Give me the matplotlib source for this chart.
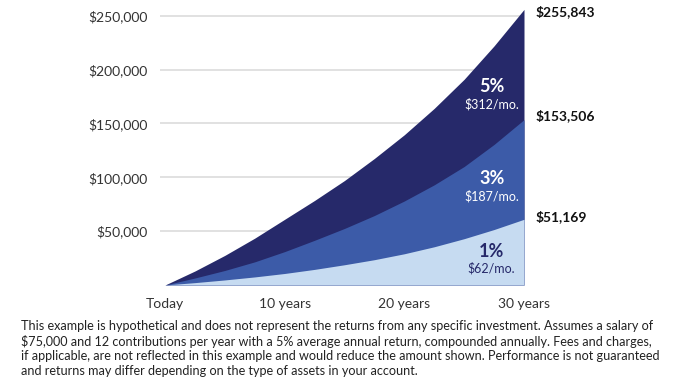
import matplotlib
matplotlib.use("Agg")
import matplotlib.pyplot as plt

plt.rcParams['font.family'] = ['Lato', 'DejaVu Sans']

# values
years = [0, 2.5, 5, 7.5, 10, 12.5, 15, 17.5, 20, 22.5, 25, 27.5, 30]
bal_5 = [0, 13000, 27500, 43500, 61000, 78500, 97000, 117500, 139500, 164000, 191000, 222000, 255843]
bal_3 = [0, 6500, 13500, 21500, 31000, 41500, 52500, 64500, 78000, 93000, 110000, 130500, 153506]
bal_1 = [0, 2200, 4700, 7500, 10700, 14500, 18800, 23500, 29000, 35500, 43000, 51500, 61000]

end_labels = ['$255,843', '$153,506', '$51,169']
rates = ['5%', '3%', '1%']
monthly = ['$312/mo.', '$187/mo.', '$62/mo.']
x_ticks = [0, 10, 20, 30]
x_labels = ['Today', '10 years', '20 years', '30 years']
y_ticks = [50000, 100000, 150000, 200000, 250000]

dark = '#26296a'
mid = '#3c5ba8'
light = '#c6dbf1'

fig = plt.figure(figsize=(6.76, 3.80), dpi=100)
ax = fig.add_axes([160 / 676, 95 / 380, 364 / 676, 277 / 380])

for yt in y_ticks:
    ax.axhline(yt, color='#dcdcdc', lw=1.2, zorder=0)

ax.fill_between(years, 0, bal_5, color=dark, lw=0, zorder=2)
ax.fill_between(years, 0, bal_3, color=mid, lw=0, zorder=3)
ax.fill_between(years, 0, bal_1, color=light, lw=0, zorder=4)

ax.set_xlim(-0.42, 30)
ax.set_ylim(0, 257140)
for s in ax.spines.values():
    s.set_visible(False)

ax.set_yticks(y_ticks)
ax.set_yticklabels(['${:,}'.format(v) for v in y_ticks])
ax.set_xticks(x_ticks)
ax.set_xticklabels(x_labels)
ax.tick_params(axis='both', length=0, labelsize=10, labelcolor='#333333')
ax.tick_params(axis='y', pad=9)
ax.tick_params(axis='x', pad=9)

# end values, to the right of the plot
end_y = [253500, 156900, 63400]
for lab, yv in zip(end_labels, end_y):
    ax.text(31.0, yv, lab, fontsize=10, fontweight='bold', color='#111111',
            ha='left', va='center', clip_on=False)

# rate labels inside the areas
rate_y = [184000, 98500, 31500]
cols = ['white', 'white', dark]
for r, m, yv, c in zip(rates, monthly, rate_y, cols):
    ax.text(27.3, yv, r, fontsize=13, fontweight='bold', color=c, ha='center', va='center', zorder=6)
    ax.text(27.3, yv - 16000, m, fontsize=9, color=c, ha='center', va='center', zorder=6)

foot = [
    "This example is hypothetical and does not represent the returns from any specific investment. Assumes a salary of",
    "$75,000 and 12 contributions per year with a 5% average annual return, compounded annually. Fees and charges,",
    "if applicable, are not reflected in this example and would reduce the amount shown. Performance is not guaranteed",
    "and returns may differ depending on the type of assets in your account.",
]
# size the footnote so the longest line fits the same width as in the reference
probe = fig.text(0, 0, foot[2], fontsize=10)
fig.canvas.draw()
w = probe.get_window_extent().width
probe.remove()
fsize = 10 * 641 / w

for i, line in enumerate(foot):
    fig.text(21 / 676, 1 - (326 + i * 15) / 380, line, fontsize=fsize, color='#222222',
             ha='left', va='center')

fig.savefig('out.png', dpi=100)
